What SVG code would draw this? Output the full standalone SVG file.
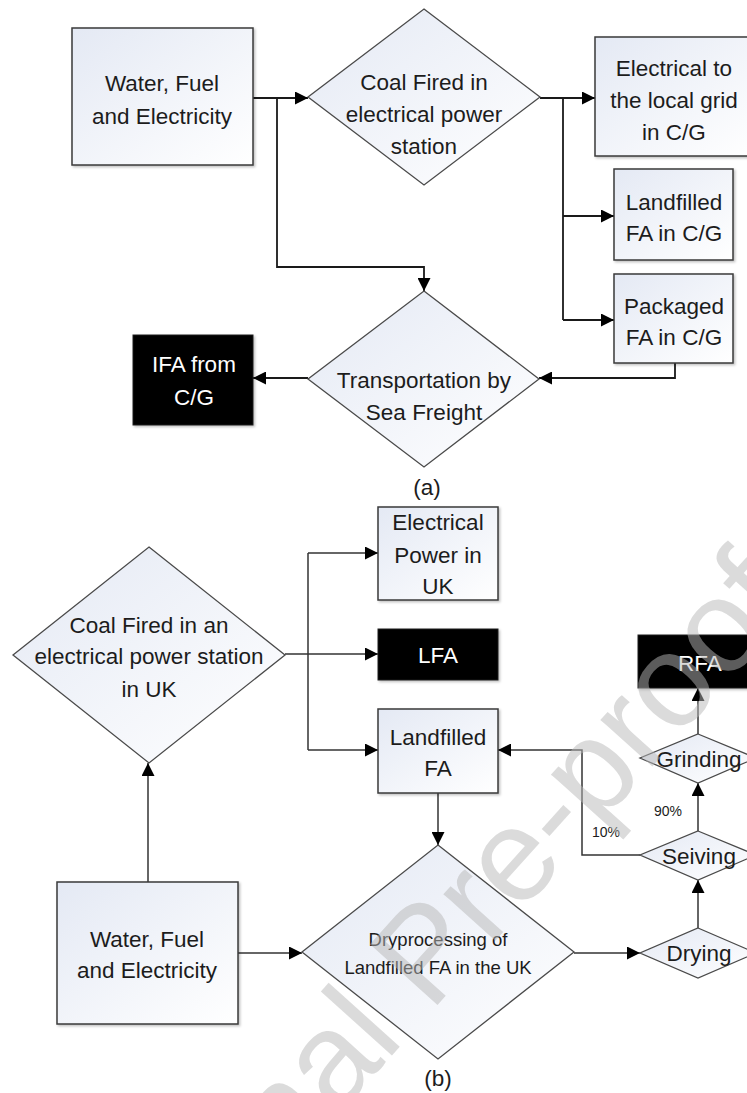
<svg xmlns="http://www.w3.org/2000/svg" width="747" height="1093" viewBox="0 0 747 1093">
<defs>
<linearGradient id="g" x1="0" y1="0" x2="1" y2="1">
<stop offset="0" stop-color="#e4e9f4"/>
<stop offset="1" stop-color="#ffffff"/>
</linearGradient>
<filter id="sh" x="-10%" y="-10%" width="130%" height="130%">
<feDropShadow dx="1.5" dy="1.5" stdDeviation="1" flood-color="#000" flood-opacity="0.25"/>
</filter>
<marker id="ah" markerUnits="userSpaceOnUse" markerWidth="13" markerHeight="13" refX="13" refY="6.5" orient="auto">
<path d="M0,0 L13,6.5 L0,13 z" fill="#000"/>
</marker>
</defs>
<style>
.box{fill:url(#g);stroke:#3a3a3a;stroke-width:1.5;filter:url(#sh)}
.blk{fill:#000;stroke:#222;stroke-width:1;filter:url(#sh)}
.dia{fill:url(#g);stroke:#4a4a4a;stroke-width:1.3}
.t{font-family:"Liberation Sans",Arial,sans-serif;font-size:22.5px;fill:#1c1c1c;text-anchor:middle}
.w{fill:#fff}
.s{font-size:18.5px}
.p{font-size:14px}
.c{fill:none;stroke:#1a1a1a;stroke-width:1.8}
.c2{fill:none;stroke:#333;stroke-width:1.5}
.a{marker-end:url(#ah)}
.wm{font-family:"Liberation Sans",Arial,sans-serif;font-size:132px;fill:#b8b8b8;opacity:0.5}
</style>
<rect width="747" height="1093" fill="#fff"/>

<g id="connectors">
<path class="c a" d="M253,98 H308"/>
<path class="c a" d="M277,98 V267 H424 V291"/>
<path class="c a" d="M540,98 H595"/>
<path class="c" d="M563,98 V320"/>
<path class="c a" d="M563,216 H614"/>
<path class="c a" d="M563,320 H614"/>
<path class="c a" d="M675,363 V378 H539"/>
<path class="c a" d="M308,378 H253"/>

<path class="c2 a" d="M285,654 H378"/>
<path class="c2" d="M308,553 V750"/>
<path class="c2 a" d="M308,553 H378"/>
<path class="c2 a" d="M308,750 H378"/>
<path class="c2 a" d="M148,882 V763"/>
<path class="c2 a" d="M238,953 H302"/>
<path class="c2 a" d="M438,793 V845"/>
<path class="c2 a" d="M574,953 H640"/>
<path class="c2 a" d="M698,928 V880"/>
<path class="c2 a" d="M698,831 V783"/>
<path class="c2 a" d="M698,734 V688"/>
<path class="c2 a" d="M640,855 H582 V750 H498"/>
</g>

<g id="wfe-a">
<rect class="box" x="72" y="28" width="181" height="137"/>
<text class="t" x="162" y="91">Water, Fuel</text>
<text class="t" x="162" y="124">and Electricity</text>
</g>
<g id="coal-a">
<polygon class="dia" points="424,9 540,97 424,185 308,97"/>
<text class="t" x="424" y="90">Coal Fired in</text>
<text class="t" x="424" y="122">electrical power</text>
<text class="t" x="424" y="154">station</text>
</g>
<g id="grid-a">
<rect class="box" x="595" y="37" width="160" height="119"/>
<text class="t" x="674" y="76">Electrical to</text>
<text class="t" x="674" y="108">the local grid</text>
<text class="t" x="674" y="140">in C/G</text>
</g>
<g id="landfill-a">
<rect class="box" x="614" y="169" width="119" height="91"/>
<text class="t" x="674" y="210">Landfilled</text>
<text class="t" x="674" y="241">FA in C/G</text>
</g>
<g id="packaged-a">
<rect class="box" x="614" y="274" width="119" height="89"/>
<text class="t" x="674" y="314">Packaged</text>
<text class="t" x="674" y="345">FA in C/G</text>
</g>
<g id="transport-a">
<polygon class="dia" points="424,291 539,379 424,467 308,379"/>
<text class="t" x="424" y="388">Transportation by</text>
<text class="t" x="424" y="420">Sea Freight</text>
</g>
<g id="ifa-a">
<rect class="blk" x="133" y="335" width="120" height="90"/>
<text class="t w" x="194" y="372">IFA from</text>
<text class="t w" x="194" y="405">C/G</text>
</g>
<text class="t" x="427" y="495">(a)</text>

<g id="coal-b">
<polygon class="dia" points="149,547 285,655 149,763 13,655"/>
<text class="t" x="149" y="633">Coal Fired in an</text>
<text class="t" x="149" y="664">electrical power station</text>
<text class="t" x="149" y="697">in UK</text>
</g>
<g id="power-b">
<rect class="box" x="378" y="507" width="120" height="93"/>
<text class="t" x="438" y="530">Electrical</text>
<text class="t" x="438" y="563">Power in</text>
<text class="t" x="438" y="594">UK</text>
</g>
<g id="lfa-b">
<rect class="blk" x="378" y="629" width="120" height="51"/>
<text class="t w" x="438" y="663">LFA</text>
</g>
<g id="landfill-b">
<rect class="box" x="378" y="709" width="120" height="84"/>
<text class="t" x="438" y="745">Landfilled</text>
<text class="t" x="438" y="776">FA</text>
</g>
<g id="rfa-b">
<rect class="blk" x="638" y="635" width="130" height="53"/>
<text class="t w" x="700" y="671">RFA</text>
</g>
<g id="grinding-b">
<polygon class="dia" points="698,734 756,758 698,783 640,758"/>
<text class="t" x="699" y="767">Grinding</text>
</g>
<g id="seiving-b">
<polygon class="dia" points="698,831 756,855 698,880 640,855"/>
<text class="t" x="699" y="864">Seiving</text>
</g>
<g id="drying-b">
<polygon class="dia" points="698,928 756,953 698,978 640,953"/>
<text class="t" x="699" y="961">Drying</text>
</g>
<text class="t p" x="668" y="816">90%</text>
<text class="t p" x="606" y="837">10%</text>
<g id="wfe-b">
<rect class="box" x="57" y="882" width="181" height="142"/>
<text class="t" x="147" y="947">Water, Fuel</text>
<text class="t" x="147" y="978">and Electricity</text>
</g>
<g id="dry-b">
<polygon class="dia" points="438,845 574,952 438,1059 302,952"/>
<text class="t s" x="438" y="946">Dryprocessing of</text>
<text class="t s" x="438" y="974">Landfilled FA in the UK</text>
</g>
<text class="t" x="438" y="1086">(b)</text>

<text class="wm" transform="translate(116,1362) rotate(-48)">Journal Pre-proof</text>
</svg>
